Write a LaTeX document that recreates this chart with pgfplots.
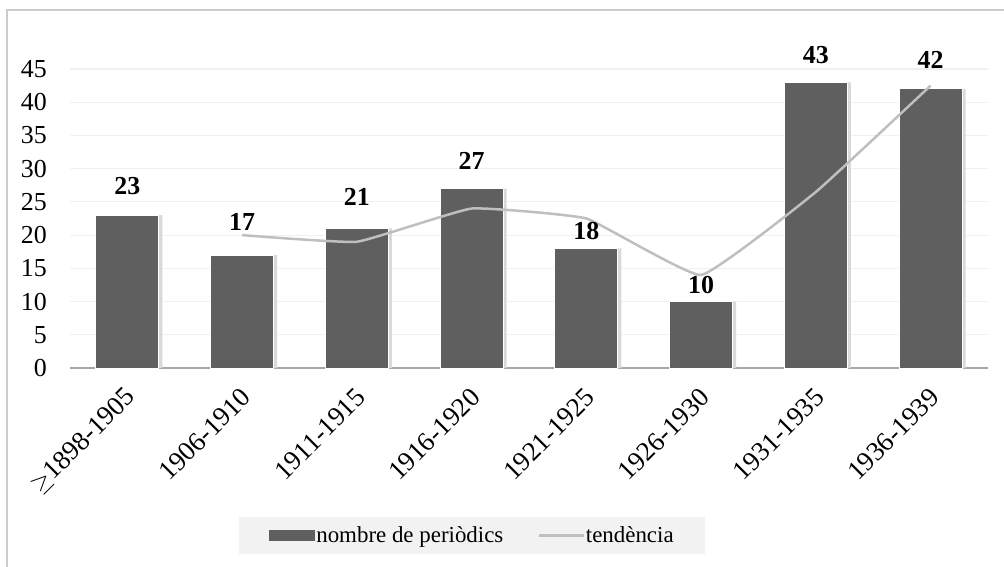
\documentclass[border=0pt]{standalone}
\usepackage{pgfplots}
\pgfplotsset{compat=1.18}
\usepackage{fontspec}
\setmainfont{Liberation Serif}
\definecolor{barc}{HTML}{5F5F5F}
\definecolor{trend}{HTML}{BFBFBF}
\definecolor{gridc}{HTML}{F0F0F0}
\definecolor{legbg}{HTML}{F2F2F2}
\pgfplotstableread{
x y sh
0 23 20
1 17 24
2 21 22
3 27 19
4 18 8
5 10 7
6 43 18
7 42 20
}\bars
\begin{document}
\begin{tikzpicture}
\begin{axis}[
  scale only axis, width=918bp, height=299bp,
  xmin=-0.5, xmax=7.5, ymin=0, ymax=45,
  clip=false,
  axis x line*=bottom, axis y line*=left,
  y axis line style={draw=none},
  x axis line style={draw=black!35, line width=1.5bp},
  xtick style={draw=none}, ytick style={draw=none},
  ymajorgrids, grid style={gridc, line width=1.2bp},
  ytick={0,5,...,45},
  xtick={0,...,7},
  xticklabels={{$\geq$1898-1905},1906-1910,1911-1915,1916-1920,1921-1925,1926-1930,1931-1935,1936-1939},
  yticklabel style={font=\fontsize{26}{30}\selectfont, black, inner sep=0pt, xshift=-23bp},
  xticklabel style={font=\fontsize{27}{30}\selectfont, black, inner sep=0pt, xshift=4bp, yshift=-25bp, rotate=45, anchor=east},
  /pgf/number format/assume math mode=true,
  legend style={at={(0.4379,-0.5602)}, anchor=center, legend columns=2,
    fill=legbg, draw=none, font=\fontsize{23}{26}\selectfont,
    inner xsep=30bp, inner ysep=8bp,
    /tikz/every even column/.append style={column sep=33bp},
    nodes={inner xsep=1bp}},
]
\addplot[ybar, bar width=63bp, bar shift=3.5bp, fill=black!15, draw=none, forget plot]
  table[x=x, y=y] {\bars};
\addplot[ybar, bar width=63bp, bar shift=0pt, fill=barc, draw=white, line width=1bp,
  visualization depends on={\thisrow{sh}\as\sh},
  nodes near coords,
  nodes near coords style={font=\fontsize{26}{30}\bfseries\selectfont, black, inner sep=0pt, anchor=south, yshift=\sh bp},
  legend image code/.code={\fill[barc] (0bp,-5bp) rectangle (45bp,5bp);}]
  table[x=x, y=y] {\bars};
\addlegendentry{nombre de periòdics}
\addplot[trend, line width=2.5bp, smooth, tension=0.2, mark=none,
  legend image code/.code={\draw[trend, line width=2.5bp] (0bp,0bp) -- (45bp,0bp);}]
  coordinates {(1,20) (2,19) (3,24) (4,22.5) (5,14) (6,26.5) (7,42.5)};
\addlegendentry{tendència}
\end{axis}
\draw[black!20, line width=1.5bp] (-63bp,-199bp) -- (-63bp,358bp) -- (934bp,358bp);
\pgfresetboundingbox
\useasboundingbox (-70bp,-199bp) rectangle (934bp,368bp);
\end{tikzpicture}
\end{document}
